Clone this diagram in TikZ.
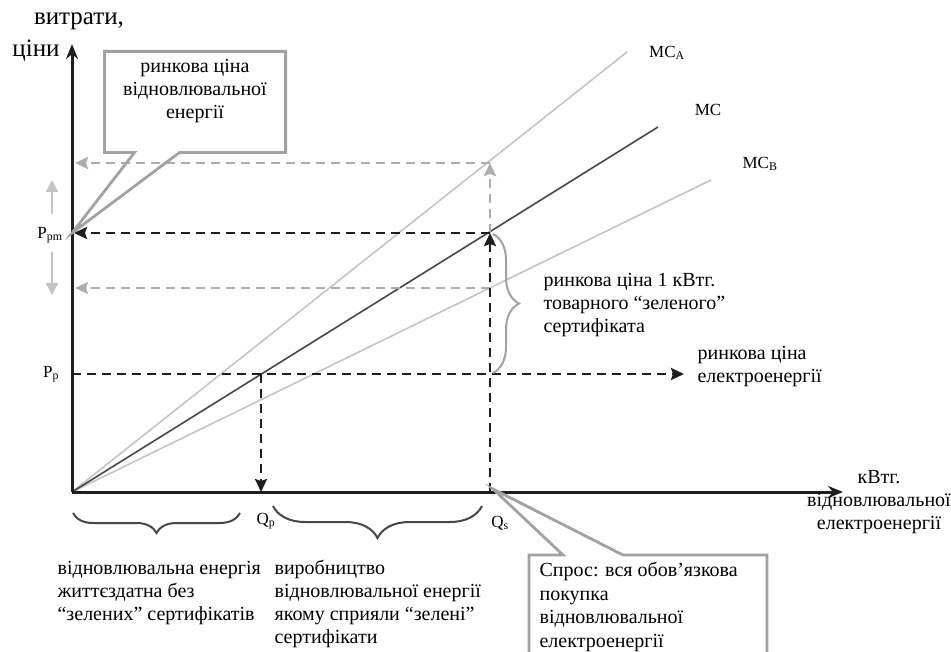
\documentclass[tikz,border=0pt]{standalone}
\usepackage{fontspec}
\setmainfont{Liberation Serif}
\usetikzlibrary{arrows.meta, positioning, calc, decorations.pathreplacing}
\definecolor{cdark}{HTML}{1E1E1E}
\definecolor{cmid}{HTML}{474747}
\definecolor{clight}{HTML}{C4C4C4}
\definecolor{cdash}{HTML}{ADADAD}
\definecolor{cbox}{HTML}{A2A2A2}
\tikzset{
  every picture/.style={line width=1.2pt},
  lbl/.style={font=\fontsize{20}{23}\selectfont, inner sep=0pt},
  txt/.style={lbl, align=left},
  sym/.style={lbl, font=\fontsize{17}{20}\selectfont},
  axis/.style={draw=cdark, line width=3pt, -{Stealth[length=15pt, width=12pt]}},
  curve/.style={draw=#1, line width=1.6pt},
  darr/.style={draw=#1, line width=2.6pt, dash pattern=on 9pt off 6pt, -{Stealth[length=13pt, width=12pt, inset=2pt]}},
  darr/.default=cdark,
  sidearr/.style={draw=clight, line width=2.6pt, -{Triangle[length=12pt, width=12pt]}},
  callout/.style={draw=cbox, line width=2.8pt, line join=miter},
  brc/.style 2 args={draw=#1, line width=2pt, decorate, decoration={brace, amplitude=#2}},
}

\begin{document}
\begin{tikzpicture}[x=1pt, y=-1pt]
  \useasboundingbox (0,0) rectangle (951,652);
  % points of the plot
  \coordinate (O) at (72,492);
  \coordinate (ytip) at (72,44);
  \coordinate (xtip) at (843,492);
  \coordinate (mcA) at (627,52);
  \coordinate (mc) at (658,127);
  \coordinate (mcB) at (711,180);
  \coordinate (Ppm) at (72,233);
  \coordinate (Pp) at (72,374);
  \coordinate (Qp) at (261,492);
  \coordinate (Qs) at (490,492);
  \coordinate (S) at (490,233);
  \coordinate (SA) at (490,163);
  \coordinate (SB) at (490,288);
  \coordinate (Sp) at (261,374);
  \coordinate (hA) at (72,163);
  \coordinate (hB) at (72,288);
  \coordinate (pe) at (684,374);
  \coordinate (up1) at (52,214);
  \coordinate (up2) at (52,180);
  \coordinate (dn1) at (52,252);
  \coordinate (dn2) at (52,295);

  % cost curves
  \draw[curve=clight] (O) -- (mcA);
  \draw[curve=clight] (O) -- (mcB);
  \draw[curve=cmid] (O) -- (mc);

  % dashed guides
  \draw[darr=cdash, shorten >=3pt] (SA) -- (hA);
  \draw[darr=cdash, shorten >=3pt] (SB) -- (hB);
  \draw[darr=cdash] (S) -- (SA);
  \draw[darr, shorten >=2pt] (S) -- (Ppm);
  \draw[darr] (Qs) -- (S);
  \draw[darr] (Pp) -- (pe);
  \draw[darr] (Sp) -- (Qp);
  \draw[sidearr] (up1) -- (up2);
  \draw[sidearr] (dn1) -- (dn2);

  % axes
  \draw[axis] (O) -- (ytip);
  \draw[axis] (O) -- (xtip);

  % axis labels
  \node[lbl, font=\fontsize{25}{28}\selectfont] (yl1) at (79,21) {витрати,};
  \node[lbl, font=\fontsize{25}{28}\selectfont] (yl2) at (36,51) {ціни};
  \node[lbl, align=center] (xl) at (879,502) {кВтг.\\відновлювальної\\електроенергії};
  \node[sym] (lPpm) at (50,235) {P\textsubscript{pm}};
  \node[sym] (lPp) at (51,374) {P\textsubscript{p}};
  \node[sym] (lQp) at (266,521) {Q\textsubscript{p}};
  \node[sym] (lQs) at (500,523) {Q\textsubscript{s}};
  \node[sym] (lmcA) at (667,53) {MC\textsubscript{A}};
  \node[sym] (lmc) at (708,110) {MC};
  \node[sym] (lmcB) at (760,164) {MC\textsubscript{B}};

  % braces
  \draw[brc={cbox}{26pt}] (493,234) -- (493,373);
  \draw[brc={cmid}{20pt}] (73,513) -- (240,513) [decoration={mirror}];
  \draw[brc={cmid}{32pt}] (273,506) -- (482,506) [decoration={mirror}];

  \node[txt, anchor=west] (cert) at (543,305) {ринкова ціна 1 кВтг.\\товарного “зеленого”\\сертифіката};
  \node[txt, anchor=west] (elprice) at (697,367) {ринкова ціна\\електроенергії};
  \node[txt, anchor=west] (viable) at (57,593) {відновлювальна енергія\\життєздатна без\\“зелених” сертифікатів};
  \node[txt, anchor=west] (prod) at (274,604) {виробництво\\відновлювальної енергії\\якому сприяли “зелені”\\сертифікати};

  % callout: market price of renewable energy
  \node[minimum width=180pt, minimum height=100pt, inner sep=0pt] (callA) at (195,102) {};
  \draw[callout] (callA.north west) -- (callA.north east) -- (callA.south east)
    -- ([xshift=75pt]callA.south west) -- (Ppm) -- ([xshift=30pt]callA.south west)
    -- (callA.south west) -- cycle;
  \node[lbl, align=center, anchor=north] (callAtxt) at ([yshift=-7pt]callA.north) {ринкова ціна\\відновлювальної\\енергії};

  % callout: demand
  \coordinate (cbl) at (529,656);
  \coordinate (ctl) at (529,555);
  \coordinate (ctr) at (767,555);
  \coordinate (cbr) at (767,656);
  \draw[callout] (cbl) -- (ctl) -- ([xshift=34pt]ctl) -- ([shift={(3pt,3pt)}]Qs)
    -- ([xshift=94pt]ctl) -- (ctr) -- (cbr);
  \node[txt, anchor=north west, font=\fontsize{20}{23.5}\selectfont] (demand) at (539,562) {Спрос: вся обов’язкова\\покупка\\відновлювальної\\електроенергії};
\end{tikzpicture}
\end{document}
